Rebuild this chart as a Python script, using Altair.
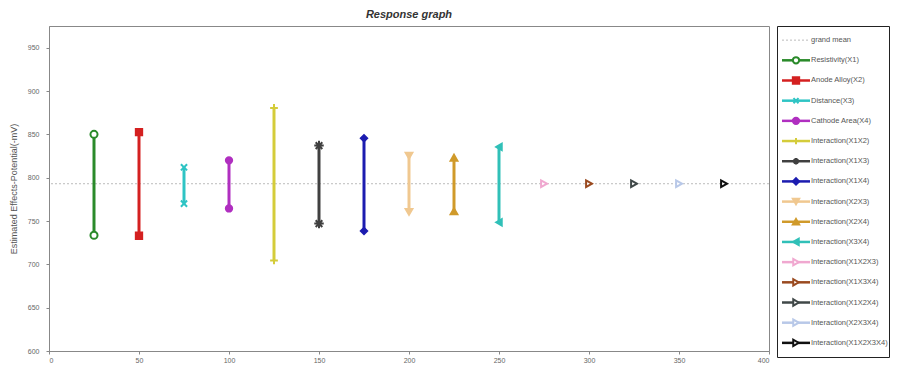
import altair as alt
import pandas as pd

# ---- data ----
series = [
    "Resistivity(X1)", "Anode Alloy(X2)", "Distance(X3)", "Cathode Area(X4)",
    "Interaction(X1X2)", "Interaction(X1X3)", "Interaction(X1X4)",
    "Interaction(X2X3)", "Interaction(X2X4)", "Interaction(X3X4)",
    "Interaction(X1X2X3)", "Interaction(X1X3X4)", "Interaction(X1X2X4)",
    "Interaction(X2X3X4)", "Interaction(X1X2X3X4)",
]
x_pos = [25, 50, 75, 100, 125, 150, 175, 200, 225, 250, 275, 300, 325, 350, 375]
high = [850, 852.5, 812, 820, 880.5, 837, 845.5, 825.5, 823, 835.5, 793, 793, 793, 793, 793]
low = [733.5, 733, 770, 764.5, 704.5, 747, 738.5, 760.5, 761, 748.5, 793, 793, 793, 793, 793]
grand_mean = 793
x_ticks = [0, 50, 100, 150, 200, 250, 300, 350, 400]
y_ticks = [600, 650, 700, 750, 800, 850, 900, 950]

# ---- styles ----
colors = [
    "#2a8a2a", "#d42020", "#2ec4c4", "#b02fc0", "#d4cc3a", "#404040", "#1c1cb0",
    "#f0c890", "#d09a2a", "#30c0b8", "#f0a8d0", "#9a4a20", "#404848", "#b8c8e8", "#101010",
]
X_PATH = "M-0.8,-0.8L0.8,0.8M-0.8,0.8L0.8,-0.8"
PLUS_PATH = "M-1,0L1,0M0,-1L0,1"
STAR_PATH = "M-1,0L1,0M0,-1L0,1M-0.7,-0.7L0.7,0.7M-0.7,0.7L0.7,-0.7"
shapes = [
    "circle", "square", X_PATH, "circle", PLUS_PATH, STAR_PATH, "diamond",
    "triangle-down", "triangle-up", "triangle-left",
    "triangle-right", "triangle-right", "triangle-right", "triangle-right", "triangle-right",
]
filled = [False, True, False, True, False, False, True, True, True, True,
          False, False, False, False, False]
sizes = [50, 40, 60, 40, 60, 90, 40, 45, 45, 40, 45, 45, 45, 45, 45]

bars = pd.DataFrame({"series": series, "x": x_pos, "low": low, "high": high, "color": colors})
pts_rows = []
for i, s in enumerate(series):
    vals = [low[i], high[i]] if low[i] != high[i] else [low[i]]
    for v in vals:
        pts_rows.append({
            "series": s, "x": x_pos[i], "value": v, "color": colors[i],
            "shape": shapes[i], "fill": colors[i] if filled[i] else "white",
            "size": sizes[i],
        })
pts = pd.DataFrame(pts_rows)

xscale = alt.Scale(domain=[0, 400], nice=False, zero=False)
yscale = alt.Scale(domain=[600, 975], nice=False, zero=False)
axis_common = dict(labelFontSize=7, labelColor="#666", domainColor="#888",
                   tickColor="#888", grid=False, tickSize=3)
xaxis = alt.Axis(values=x_ticks, title=None, labelPadding=2, **axis_common)
yaxis = alt.Axis(values=y_ticks, title="Estimated Effects-Potential(-mV)",
                 titleFontSize=9, titleFontWeight="normal", titleColor="#555",
                 titlePadding=9, labelPadding=7, **axis_common)

gm = alt.Chart(pd.DataFrame({"gm": [grand_mean]})).mark_rule(
    strokeDash=[2, 2], color="#bbbbbb", strokeWidth=1
).encode(y=alt.Y("gm:Q", scale=yscale, axis=yaxis))

rules = alt.Chart(bars).mark_rule(strokeWidth=3).encode(
    x=alt.X("x:Q", scale=xscale, axis=xaxis),
    y=alt.Y("low:Q", scale=yscale),
    y2="high:Q",
    color=alt.Color("color:N", scale=None),
)

points = alt.Chart(pts).mark_point(strokeWidth=2, opacity=1).encode(
    x=alt.X("x:Q", scale=xscale),
    y=alt.Y("value:Q", scale=yscale),
    shape=alt.Shape("shape:N", scale=None),
    stroke=alt.Stroke("color:N", scale=None),
    fill=alt.Fill("fill:N", scale=None),
    size=alt.Size("size:Q", scale=None),
)

plot = alt.layer(gm, rules, points).properties(
    width=720, height=325,
    title=alt.TitleParams("Response graph", fontSize=11, fontStyle="italic",
                          fontWeight="bold", color="#333", offset=6, anchor="middle"),
    view=alt.ViewBackground(stroke="#888"),
)

# ---- legend panel ----
leg_names = ["grand mean"] + series
leg = pd.DataFrame({
    "name": leg_names,
    "order": list(range(len(leg_names))),
    "color": ["#bbbbbb"] + colors,
    "shape": ["circle"] + shapes,
    "fill": ["white"] + [c if f else "white" for c, f in zip(colors, filled)],
})
leg_series = leg[leg["order"] > 0]
leg_gm = leg[leg["order"] == 0]

lx = alt.Scale(domain=[0, 112], nice=False, zero=False)
ly = alt.Scale(type="point", domain=leg_names, padding=0.7)
LINE_X1, LINE_X2, MARK_X, TEXT_X = 5, 33, 19, 34

leg_line = alt.Chart(leg_series).mark_rule(strokeWidth=2.5).encode(
    x=alt.datum(LINE_X1, scale=lx, axis=None), x2=alt.datum(LINE_X2),
    y=alt.Y("name:N", scale=ly, axis=None),
    color=alt.Color("color:N", scale=None),
)
leg_gm_line = alt.Chart(leg_gm).mark_rule(strokeWidth=1, strokeDash=[2, 2]).encode(
    x=alt.datum(LINE_X1, scale=lx, axis=None), x2=alt.datum(LINE_X2),
    y=alt.Y("name:N", scale=ly, axis=None),
    color=alt.Color("color:N", scale=None),
)
leg_pt = alt.Chart(leg_series).mark_point(strokeWidth=2, opacity=1, size=40).encode(
    x=alt.datum(MARK_X, scale=lx, axis=None),
    y=alt.Y("name:N", scale=ly, axis=None),
    shape=alt.Shape("shape:N", scale=None),
    stroke=alt.Stroke("color:N", scale=None),
    fill=alt.Fill("fill:N", scale=None),
)
leg_txt = alt.Chart(leg).mark_text(align="left", baseline="middle", fontSize=7.5, color="#555").encode(
    x=alt.datum(TEXT_X, scale=lx, axis=None),
    y=alt.Y("name:N", scale=ly, axis=None),
    text="name:N",
)
legend = alt.layer(leg_gm_line, leg_line, leg_pt, leg_txt).properties(
    width=112, height=331,
    title=alt.TitleParams(" ", fontSize=11, offset=6),
    view=alt.ViewBackground(stroke="#222"),
)

chart = alt.hconcat(plot, legend, spacing=6).properties(padding=0)
chart.save("out.html", embed_options={"renderer": "svg", "actions": False})
